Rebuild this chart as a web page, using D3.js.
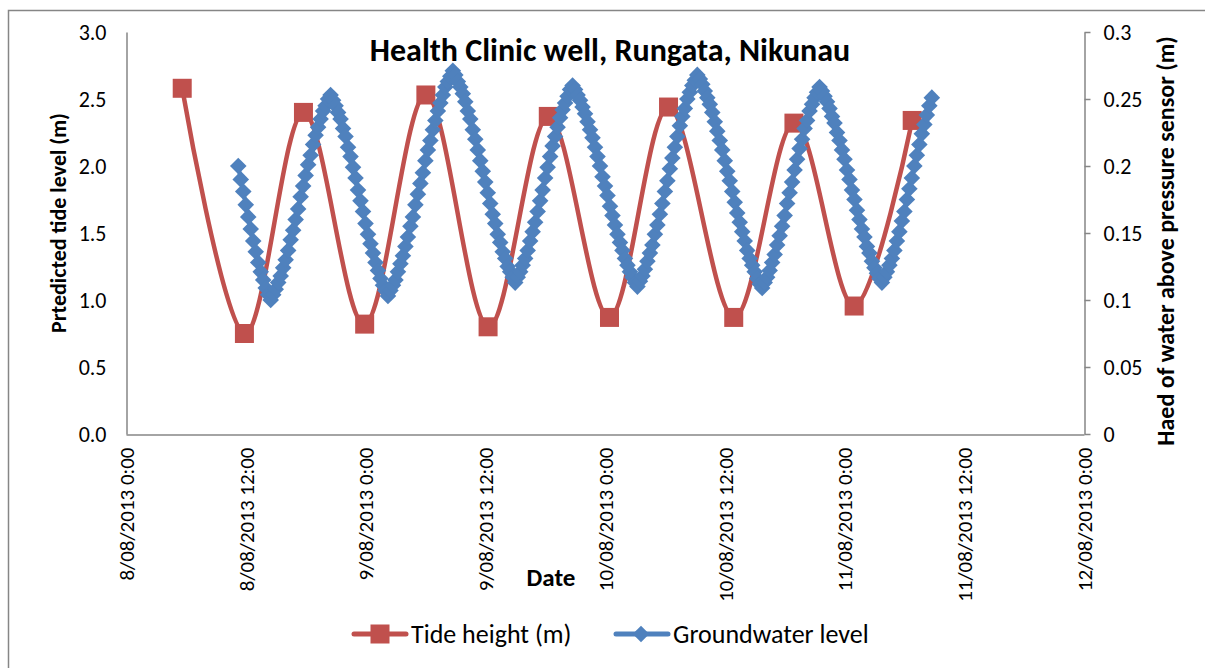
<!DOCTYPE html>
<html>
<head>
<meta charset="utf-8">
<script src="https://cdn.jsdelivr.net/npm/d3@7"></script>
<style>
  html, body { margin: 0; padding: 0; background: #fff; }
  svg { display: block; font-family: Carlito, Calibri, Lato, sans-serif; }
</style>
</head>
<body>
<svg id="chart" width="1205" height="668"></svg>
<script>
// ---------- DATA ----------
const chartTitle = "Health Clinic well, Rungata, Nikunau";
const leftAxisTitle = "Prtedicted tide level (m)";
const rightAxisTitle = "Haed of water above pressure sensor (m)";
const xAxisTitle = "Date";
const seriesNames = ["Tide height (m)", "Groundwater level"];

const xDomain = ["2013-08-08 00:00", "2013-08-12 00:00"];
const xTickLabels = ["8/08/2013 0:00", "8/08/2013 12:00", "9/08/2013 0:00", "9/08/2013 12:00",
  "10/08/2013 0:00", "10/08/2013 12:00", "11/08/2013 0:00", "11/08/2013 12:00", "12/08/2013 0:00"];
const leftTicks = [0, 0.5, 1.0, 1.5, 2.0, 2.5, 3.0];
const leftTickLabels = ["0.0", "0.5", "1.0", "1.5", "2.0", "2.5", "3.0"];
const rightTicks = [0, 0.05, 0.1, 0.15, 0.2, 0.25, 0.3];
const rightTickLabels = ["0", "0.05", "0.1", "0.15", "0.2", "0.25", "0.3"];

// Tide predictions (high / low water)
const tideTimes = ["2013-08-08 05:38", "2013-08-08 11:52", "2013-08-08 17:47", "2013-08-08 23:55",
  "2013-08-09 06:03", "2013-08-09 12:17", "2013-08-09 18:19", "2013-08-10 00:27",
  "2013-08-10 06:22", "2013-08-10 12:54", "2013-08-10 18:56", "2013-08-11 00:58",
  "2013-08-11 06:47"];
const tideHeights = [2.58, 0.75, 2.40, 0.82, 2.53, 0.80, 2.37, 0.87, 2.44, 0.87, 2.32, 0.955, 2.34];

// Groundwater logger readings, every 15 minutes from the start time
const gwStart = "2013-08-08 11:15";
const gwStepMinutes = 15;
const gwLevels = [
  0.200, 0.190, 0.181, 0.171, 0.162, 0.153, 0.144, 0.136, 0.128, 0.121, 0.115, 0.109, 0.104, 0.100,
  0.104, 0.108, 0.113, 0.118, 0.124, 0.130, 0.137, 0.145, 0.152, 0.160, 0.168, 0.177, 0.185, 0.193,
  0.201, 0.208, 0.216, 0.223, 0.229, 0.235, 0.241, 0.245, 0.250, 0.253,
  0.249, 0.245, 0.240, 0.235, 0.228, 0.222, 0.214, 0.207, 0.199, 0.191, 0.182, 0.174, 0.166, 0.157,
  0.149, 0.142, 0.135, 0.128, 0.122, 0.116, 0.111, 0.107, 0.103,
  0.107, 0.111, 0.115, 0.121, 0.127, 0.133, 0.140, 0.147, 0.155, 0.162, 0.171, 0.179, 0.187, 0.195,
  0.204, 0.212, 0.219, 0.227, 0.234, 0.241, 0.247, 0.253, 0.259, 0.263, 0.267, 0.271,
  0.268, 0.263, 0.259, 0.254, 0.248, 0.241, 0.235, 0.227, 0.220, 0.212, 0.204, 0.196, 0.188, 0.180,
  0.172, 0.164, 0.157, 0.149, 0.143, 0.136, 0.131, 0.125, 0.121, 0.117, 0.113,
  0.117, 0.121, 0.126, 0.131, 0.137, 0.144, 0.151, 0.158, 0.166, 0.174, 0.182, 0.191, 0.199, 0.207,
  0.215, 0.222, 0.229, 0.236, 0.242, 0.247, 0.252, 0.257, 0.260,
  0.257, 0.253, 0.249, 0.244, 0.239, 0.233, 0.227, 0.221, 0.214, 0.207, 0.200, 0.192, 0.185, 0.178,
  0.170, 0.163, 0.156, 0.149, 0.143, 0.137, 0.131, 0.126, 0.121, 0.117, 0.113, 0.110,
  0.114, 0.118, 0.123, 0.129, 0.135, 0.141, 0.149, 0.156, 0.164, 0.172, 0.181, 0.189, 0.198, 0.206,
  0.214, 0.222, 0.230, 0.237, 0.243, 0.250, 0.255, 0.260, 0.264, 0.268,
  0.265, 0.261, 0.256, 0.251, 0.246, 0.240, 0.233, 0.226, 0.219, 0.212, 0.204, 0.196, 0.189, 0.181,
  0.173, 0.165, 0.158, 0.151, 0.144, 0.137, 0.131, 0.126, 0.121, 0.116, 0.112, 0.109,
  0.113, 0.117, 0.122, 0.128, 0.134, 0.141, 0.148, 0.155, 0.163, 0.172, 0.180, 0.188, 0.197, 0.205,
  0.213, 0.220, 0.228, 0.234, 0.241, 0.246, 0.251, 0.255, 0.259,
  0.256, 0.252, 0.248, 0.243, 0.237, 0.232, 0.225, 0.219, 0.212, 0.205, 0.197, 0.190, 0.182, 0.175,
  0.167, 0.160, 0.153, 0.147, 0.140, 0.135, 0.129, 0.124, 0.120, 0.116, 0.113,
  0.117, 0.121, 0.126, 0.131, 0.137, 0.144, 0.151, 0.159, 0.166, 0.175, 0.183, 0.191, 0.200, 0.208,
  0.216, 0.224, 0.231, 0.238, 0.245, 0.251
];

// ---------- CHART ----------
const parse = d3.timeParse("%Y-%m-%d %H:%M");
const tide = tideTimes.map((t, i) => ({ t: parse(t), v: tideHeights[i] }));
const gw0 = parse(gwStart);
const gw = gwLevels.map((v, i) => ({ t: d3.timeMinute.offset(gw0, i * gwStepMinutes), v }));

const RED = "#C0504D", BLUE = "#4F81BD", AXIS = "#868686";
const FONT = "Carlito, Calibri, Lato, sans-serif";
const plot = { left: 126, right: 1084, top: 32, bottom: 434 };

const svg = d3.select("#chart");
svg.append("rect").attr("x", 0).attr("y", 0).attr("width", 1205).attr("height", 668).attr("fill", "#fff");
svg.append("rect").attr("x", 8.5).attr("y", 10.5).attr("width", 1400).attr("height", 900)
  .attr("fill", "none").attr("stroke", AXIS).attr("stroke-width", 1.5);

const x = d3.scaleTime().domain(xDomain.map(parse)).range([plot.left, plot.right]);
const yL = d3.scaleLinear().domain([0, 3]).range([plot.bottom, plot.top]);
const yR = d3.scaleLinear().domain([0, 0.3]).range([plot.bottom, plot.top]);

// Left axis
const gL = svg.append("g").attr("transform", `translate(${plot.left + 0.5},0)`)
  .call(d3.axisLeft(yL).tickValues(leftTicks).tickFormat((d, i) => leftTickLabels[i]).tickSize(0).tickPadding(20));
// Right axis
const gR = svg.append("g").attr("transform", `translate(${plot.right + 0.5},0)`)
  .call(d3.axisRight(yR).tickValues(rightTicks).tickFormat((d, i) => rightTickLabels[i]).tickSizeInner(6).tickSizeOuter(0).tickPadding(13));
// Bottom axis
const xTickDates = d3.timeHour.every(12).range(x.domain()[0], d3.timeMinute.offset(x.domain()[1], 1));
const gB = svg.append("g").attr("transform", `translate(0,${plot.bottom + 0.5})`)
  .call(d3.axisBottom(x).tickValues(xTickDates).tickFormat((d, i) => xTickLabels[i]).tickSize(0));

[gL, gR, gB].forEach(g => {
  g.select(".domain").attr("stroke", AXIS).attr("stroke-width", 1.5);
  g.selectAll(".tick line").attr("stroke", AXIS).attr("stroke-width", 1.5);
  g.selectAll("text").attr("fill", "#000").attr("font-family", FONT);
});
gL.selectAll("text").attr("font-size", 22).attr("dy", "0.36em");
gR.selectAll("text").attr("font-size", 22).attr("dy", "0.36em");
gB.selectAll(".tick text")
  .attr("font-size", 21)
  .attr("text-anchor", "end")
  .attr("transform", "translate(0,13) rotate(-90)")
  .attr("x", 0).attr("y", 0).attr("dy", "0.35em");

// Titles
svg.append("text").attr("x", 610).attr("y", 61).attr("text-anchor", "middle")
  .attr("font-size", 32).attr("font-weight", "bold").text(chartTitle);
svg.append("text").attr("transform", "translate(58,223) rotate(-90)").attr("text-anchor", "middle")
  .attr("dy", "0.35em").attr("font-size", 22).attr("font-weight", "bold").text(leftAxisTitle);
svg.append("text").attr("transform", "translate(1166,241) rotate(-90)").attr("text-anchor", "middle")
  .attr("dy", "0.35em").attr("font-size", 24).attr("font-weight", "bold").text(rightAxisTitle);
svg.append("text").attr("x", 551).attr("y", 577).attr("text-anchor", "middle").attr("dy", "0.35em")
  .attr("font-size", 25).attr("font-weight", "bold").text(xAxisTitle);

// Tide series
const tideLine = d3.line().x(d => x(d.t)).y(d => yL(d.v)).curve(d3.curveCardinal.tension(0));
svg.append("path").datum(tide).attr("d", tideLine).attr("fill", "none")
  .attr("stroke", RED).attr("stroke-width", 4.5).attr("stroke-linejoin", "round").attr("stroke-linecap", "round");
const sq = 19;
svg.append("g").selectAll("rect").data(tide).join("rect")
  .attr("x", d => x(d.t) - sq / 2).attr("y", d => yL(d.v) - sq / 2)
  .attr("width", sq).attr("height", sq).attr("fill", RED);

// Groundwater series
const gwLine = d3.line().x(d => x(d.t)).y(d => yR(d.v));
svg.append("path").datum(gw).attr("d", gwLine).attr("fill", "none")
  .attr("stroke", BLUE).attr("stroke-width", 4).attr("stroke-linejoin", "round");
const dr = 8.3;
const diamond = `M0,${-dr}L${dr},0L0,${dr}L${-dr},0Z`;
svg.append("g").selectAll("path").data(gw).join("path")
  .attr("transform", d => `translate(${x(d.t)},${yR(d.v)})`)
  .attr("d", diamond).attr("fill", BLUE);

// Legend
const ly = 634;
const leg = svg.append("g");
leg.append("line").attr("x1", 354).attr("x2", 406).attr("y1", ly).attr("y2", ly)
  .attr("stroke", RED).attr("stroke-width", 5).attr("stroke-linecap", "round");
leg.append("rect").attr("x", 380 - sq / 2).attr("y", ly - sq / 2).attr("width", sq).attr("height", sq).attr("fill", RED);
leg.append("text").attr("x", 411).attr("y", ly).attr("dy", "0.35em").attr("font-size", 26).attr("font-family", FONT).text(seriesNames[0]);
leg.append("line").attr("x1", 616).attr("x2", 668).attr("y1", ly).attr("y2", ly)
  .attr("stroke", BLUE).attr("stroke-width", 5).attr("stroke-linecap", "round");
leg.append("path").attr("transform", `translate(641,${ly})`).attr("d", diamond).attr("fill", BLUE);
leg.append("text").attr("x", 673).attr("y", ly).attr("dy", "0.35em").attr("font-size", 26).attr("font-family", FONT).text(seriesNames[1]);
</script>
</body>
</html>
